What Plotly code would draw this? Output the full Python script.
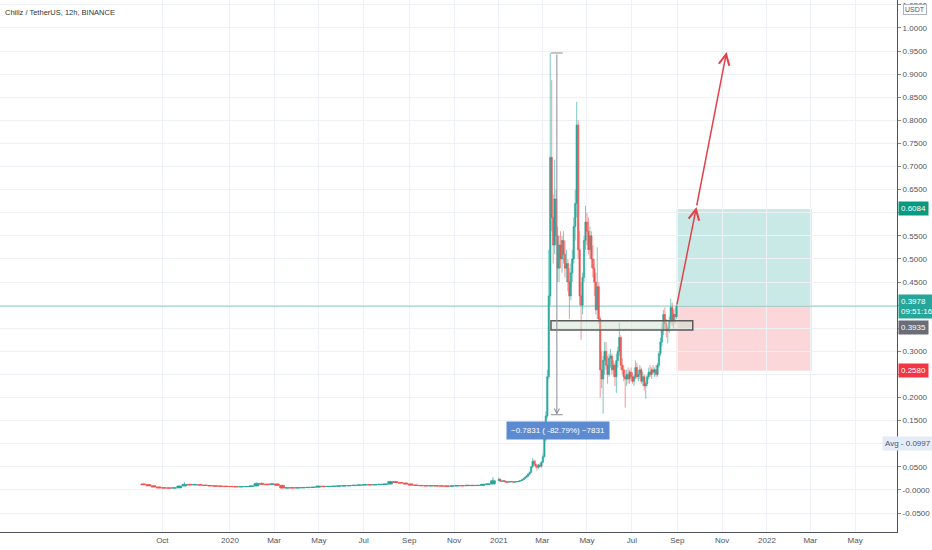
import pandas as pd
import plotly.graph_objects as go

# Weekly candles, Sep 2019 - Dec 2020 (the flat part of the chart)
wk_open = [.0130, .0115, .0090, .0065, .0045, .0042, .0040, .0044, .0085, .0120,
           .0110, .0115, .0105, .0095, .0088, .0082, .0080, .0076, .0072, .0068,
           .0070, .0074, .0085, .0140, .0125, .0115, .0130, .0100, .0040, .0046,
           .0044, .0046, .0050, .0054, .0058, .0080, .0072, .0076, .0080, .0086,
           .0090, .0094, .0100, .0106, .0112, .0110, .0114, .0120, .0126, .0180,
           .0160, .0150, .0130, .0105, .0098, .0092, .0088, .0090, .0086, .0084,
           .0082, .0086, .0092, .0090, .0100, .0094, .0098, .0120, .0128]
wk_high = [.0140, .0120, .0095, .0070, .0055, .0050, .0048, .0090, .0165, .0130,
           .0125, .0122, .0112, .0100, .0094, .0090, .0086, .0082, .0078, .0076,
           .0078, .0090, .0165, .0160, .0135, .0145, .0140, .0105, .0052, .0054,
           .0050, .0056, .0058, .0062, .0090, .0088, .0080, .0084, .0090, .0095,
           .0098, .0104, .0112, .0116, .0120, .0118, .0124, .0130, .0200, .0195,
           .0170, .0158, .0135, .0112, .0106, .0100, .0096, .0098, .0094, .0092,
           .0090, .0096, .0100, .0104, .0108, .0102, .0126, .0136, .0270]
wk_low = [.0110, .0085, .0060, .0040, .0038, .0036, .0035, .0042, .0080, .0100,
          .0098, .0100, .0090, .0082, .0078, .0075, .0072, .0068, .0064, .0062,
          .0064, .0070, .0082, .0115, .0108, .0110, .0095, .0030, .0034, .0040,
          .0038, .0042, .0045, .0050, .0055, .0066, .0066, .0070, .0076, .0080,
          .0082, .0088, .0094, .0100, .0104, .0102, .0108, .0112, .0122, .0150,
          .0140, .0125, .0100, .0092, .0088, .0084, .0082, .0084, .0080, .0078,
          .0076, .0082, .0086, .0086, .0088, .0088, .0094, .0110, .0124]
wk_close = [.0115, .0090, .0065, .0045, .0042, .0040, .0044, .0085, .0120, .0110,
            .0115, .0105, .0095, .0088, .0082, .0080, .0076, .0072, .0068, .0070,
            .0074, .0085, .0140, .0125, .0115, .0130, .0100, .0040, .0046, .0044,
            .0046, .0050, .0054, .0058, .0080, .0072, .0076, .0080, .0086, .0090,
            .0094, .0100, .0106, .0112, .0110, .0114, .0120, .0126, .0180, .0160,
            .0150, .0130, .0105, .0098, .0092, .0088, .0090, .0086, .0084, .0082,
            .0086, .0092, .0090, .0100, .0094, .0098, .0120, .0128, .0200]

# 2-day candles, Jan 2021 - Aug 2021
d2_open = [.0200, .0230, .0190, .0185, .0200, .0180, .0165, .0178, .0172, .0180,
           .0176, .0165, .0175, .0183, .0178, .0195, .0205, .0225, .0250, .0280,
           .0300, .0345, .0380, .0500, .0620, .0560, .0520, .0490, .0540, .0510,
           .0600, .0720, .1100, .1600, .2450, .4200, .7200, .5900, .5300, .6300,
           .5500, .4800, .5300, .5000, .5400, .5100, .4800, .4900, .4500, .4200,
           .4700, .5000, .5700, .6200, .7900, .5200, .4200, .4000, .4600, .5400,
           .5800, .5600, .5200, .5500, .5000, .4800, .4500, .3900, .4400, .3700,
           .2600, .2400, .2800, .3000, .2700, .2500, .2850, .2900, .2600, .2700,
           .2450, .2800, .3000, .3300, .2700, .2600, .2450, .2400, .2500, .2400,
           .2550, .2450, .2350, .2450, .2650, .2450, .2500, .2600, .2350, .2450,
           .2250, .2300, .2450, .2550, .2500, .2600, .2550, .2600, .2500, .2700,
           .2950, .3200, .3450, .3800, .3600, .3450, .3500, .3650, .3950, .3650,
           .3800, .3750]
d2_high = [.0270, .0250, .0205, .0210, .0215, .0190, .0185, .0190, .0185, .0195,
           .0180, .0180, .0190, .0188, .0200, .0210, .0230, .0260, .0290, .0320,
           .0360, .0400, .0520, .0690, .0660, .0640, .0560, .0560, .0580, .0620,
           .0780, .1200, .1700, .2600, .5200, .9459, .8870, .6400, .7150, .6500,
           .5700, .5500, .5600, .5500, .5600, .5400, .5200, .5000, .4800, .4900,
           .5200, .5900, .6500, .8400, .8000, .5600, .4500, .4700, .5500, .6150,
           .6000, .5900, .5700, .5600, .5300, .5000, .4700, .5250, .4500, .3750,
           .3000, .2900, .3200, .3200, .2900, .2950, .3050, .2950, .2800, .2750,
           .2950, .3100, .3620, .3350, .2850, .2700, .2600, .2600, .2650, .2600,
           .2650, .2550, .2500, .2800, .2750, .2600, .2700, .2650, .2550, .2500,
           .2350, .2500, .2650, .2700, .2650, .2700, .2650, .2700, .2750, .3000,
           .3300, .3600, .3900, .3950, .3700, .3550, .3750, .4140, .4050, .3900,
           .3950, .4000]
d2_low = [.0185, .0180, .0170, .0175, .0170, .0150, .0160, .0165, .0168, .0172,
          .0150, .0160, .0170, .0165, .0175, .0188, .0200, .0215, .0240, .0260,
          .0285, .0320, .0370, .0480, .0520, .0480, .0420, .0460, .0490, .0480,
          .0580, .0700, .1050, .1550, .2400, .4000, .5600, .4900, .5100, .5300,
          .4500, .4500, .4800, .4700, .4900, .4600, .4500, .4300, .3700, .4100,
          .4500, .4900, .5400, .5900, .5000, .4000, .3250, .3800, .4500, .5200,
          .5300, .5100, .5000, .4800, .4600, .4200, .3800, .3700, .3600, .2000,
          .2200, .1650, .2500, .2600, .2300, .2450, .2650, .2500, .2450, .2250,
          .2100, .2650, .2900, .2600, .2500, .2350, .1780, .2250, .2300, .2300,
          .2350, .2300, .2250, .2400, .2400, .2350, .2400, .2300, .2250, .2150,
          .1970, .2250, .2400, .2450, .2400, .2500, .2450, .2450, .2450, .2650,
          .2900, .3100, .3350, .3500, .3300, .3170, .3400, .3600, .3550, .3500,
          .3600, .3700]
d2_close = [.0230, .0190, .0185, .0200, .0180, .0165, .0178, .0172, .0180, .0176,
            .0165, .0175, .0183, .0178, .0195, .0205, .0225, .0250, .0280, .0300,
            .0345, .0380, .0500, .0620, .0560, .0520, .0490, .0540, .0510, .0600,
            .0720, .1100, .1600, .2450, .4200, .7200, .5900, .5300, .6300, .5500,
            .4800, .5300, .5000, .5400, .5100, .4800, .4900, .4500, .4200, .4700,
            .5000, .5700, .6200, .7900, .5200, .4200, .4000, .4600, .5400, .5800,
            .5600, .5200, .5500, .5000, .4800, .4500, .3900, .4400, .3700, .2600,
            .2400, .2800, .3000, .2700, .2500, .2850, .2900, .2600, .2700, .2450,
            .2800, .3000, .3300, .2700, .2600, .2450, .2400, .2500, .2400, .2550,
            .2450, .2350, .2450, .2650, .2450, .2500, .2600, .2350, .2450, .2250,
            .2300, .2450, .2550, .2500, .2600, .2550, .2600, .2500, .2700, .2950,
            .3200, .3450, .3800, .3600, .3450, .3500, .3650, .3950, .3650, .3800,
            .3750, .3978]

wk_dates = pd.date_range("2019-09-05", periods=len(wk_close), freq="7D")
d2_dates = pd.date_range("2021-01-01", periods=len(d2_close), freq="2D")

# axis ticks
x_tickvals = ["2019-10-01", "2020-01-01", "2020-03-01", "2020-05-01", "2020-07-01",
              "2020-09-01", "2020-11-01", "2021-01-01", "2021-03-01", "2021-05-01",
              "2021-07-01", "2021-09-01", "2021-11-01", "2022-01-01", "2022-03-01",
              "2022-05-01"]
x_ticktext = ["Oct", "2020", "Mar", "May", "Jul", "Sep", "Nov", "2021", "Mar", "May",
              "Jul", "Sep", "Nov", "2022", "Mar", "May"]
y_tickvals = [-0.05, 0.0, 0.05, 0.1, 0.15, 0.2, 0.25, 0.3, 0.35, 0.4, 0.45, 0.5,
              0.55, 0.6, 0.65, 0.7, 0.75, 0.8, 0.85, 0.9, 0.95, 1.0, 1.05]
# labels hidden behind the price tags on the axis
y_hidden = [0.1, 0.25, 0.35, 0.4, 0.6]
y_ticktext = ["-0.0500", "-0.0000"] + ["" if v in y_hidden else "%.4f" % v
                                       for v in y_tickvals[2:]]

# drawings on the chart
last_price = 0.3978
target_price = 0.6084
stop_price = 0.2580
avg_price = 0.0997
measure_top = 0.9459
measure_bottom = 0.1628
zone_top = 0.3663
zone_bottom = 0.3463
arrow_points = [("2021-08-31", 0.3978), ("2021-09-27", 0.6125), ("2021-11-07", 0.948)]

UP = "#26a69a"
DOWN = "#ef5350"
FONT = "Liberation Sans, Arial, sans-serif"

fig = go.Figure()
# weekly candles sit on a hidden twin axis so their width follows their own spacing
for axis, dates, o, h, l, c, lw in [("x2", wk_dates, wk_open, wk_high, wk_low, wk_close, 0.8),
                                    ("x", d2_dates, d2_open, d2_high, d2_low, d2_close, 0.6)]:
    fig.add_trace(go.Candlestick(
        x=dates, open=o, high=h, low=l, close=c, xaxis=axis,
        increasing=dict(line=dict(color=UP, width=lw), fillcolor=UP),
        decreasing=dict(line=dict(color=DOWN, width=lw), fillcolor=DOWN),
        whiskerwidth=0, showlegend=False, hoverinfo="skip"))

# long / short position boxes
fig.add_shape(type="rect", x0="2021-08-31", x1="2022-03-03", y0=last_price, y1=target_price,
              fillcolor="rgba(38,166,154,0.25)", line=dict(width=0), layer="below")
fig.add_shape(type="rect", x0="2021-08-31", x1="2022-03-03", y0=stop_price, y1=last_price,
              fillcolor="rgba(242,54,69,0.2)", line=dict(width=0), layer="below")
# current price line
fig.add_shape(type="line", xref="paper", x0=0, x1=1, y0=last_price, y1=last_price,
              line=dict(color="rgba(38,166,154,0.5)", width=1))
# support zone
fig.add_shape(type="rect", x0="2021-03-13", x1="2021-09-22", y0=zone_bottom, y1=zone_top,
              fillcolor="rgba(205,225,205,0.45)", line=dict(color="#5a5a5a", width=1.5))
# price range tool
for yv in [measure_top, measure_bottom]:
    fig.add_shape(type="line", x0="2021-03-13", x1="2021-03-29", y0=yv, y1=yv,
                  line=dict(color="#8a8d96", width=1))
fig.add_annotation(x="2021-03-21", y=measure_bottom, ax="2021-03-21", ay=measure_top,
                   axref="x", ayref="y", text="", showarrow=True, arrowhead=5,
                   arrowsize=1, arrowwidth=1, arrowcolor="#8a8d96")
fig.add_annotation(x="2021-03-23", y=0.1297, text="\u22120.7831 ( -82.79%) \u22127831",
                   showarrow=False, bgcolor="#5d8bd2", borderpad=4,
                   font=dict(family=FONT, size=8, color="white"))

# red arrows
for (x0, y0), (x1, y1) in zip(arrow_points[:-1], arrow_points[1:]):
    fig.add_annotation(x=x1, y=y1, ax=x0, ay=y0, axref="x", ayref="y", text="",
                       showarrow=True, arrowhead=5, arrowsize=1.4, arrowwidth=1.5,
                       arrowcolor="#e2434b")

# title
fig.add_annotation(xref="paper", yref="paper", x=0.003, y=1, xanchor="left", yanchor="top",
                   yshift=-6, text="Chiliz / TetherUS, 12h, BINANCE", showarrow=False,
                   font=dict(family=FONT, size=7.5, color="#333"))
# axis labels
fig.add_annotation(xref="paper", yref="paper", x=1, y=1, xanchor="left", yanchor="top",
                   xshift=6, yshift=-4, text="USDT", showarrow=False, bgcolor="white",
                   bordercolor="#b0b3bb", borderwidth=1, borderpad=1,
                   font=dict(family=FONT, size=7, color="#555"))
labels = [(target_price, "0.6084", "#089981"),
          (last_price, "0.3978<br>09:51:16", "#26a69a"),
          (0.352, "0.3935", "#6a6d78"),
          (stop_price, "0.2580", "#f23645")]
for yv, txt, col in labels:
    fig.add_annotation(xref="paper", x=1, y=yv, xanchor="left", xshift=1, text=txt,
                       showarrow=False, bgcolor=col, borderpad=2, align="left",
                       font=dict(family=FONT, size=8, color="white"))
fig.add_annotation(xref="paper", x=0.983, y=avg_price, xanchor="left", text="Avg - 0.0997",
                   showarrow=False, bgcolor="#e4ecf8", borderpad=2,
                   font=dict(family=FONT, size=8, color="#4a5470"))

fig.update_layout(
    width=932, height=550, autosize=False,
    margin=dict(l=0, r=35, t=0, b=18),
    paper_bgcolor="white", plot_bgcolor="white",
    font=dict(family=FONT, size=8, color="#50535e"),
    boxgap=0.05, boxgroupgap=0.05,
    xaxis=dict(type="date", range=["2019-02-22", "2022-06-27"], rangeslider=dict(visible=False),
               tickvals=x_tickvals, ticktext=x_ticktext, showgrid=True, gridcolor="#eef1f6",
               showline=True, linecolor="#50535e", linewidth=1, ticks="", zeroline=False,
               tickfont=dict(size=8)),
    xaxis2=dict(type="date", overlaying="x", matches="x", visible=False,
                rangeslider=dict(visible=False)),
    yaxis=dict(side="right", range=[-0.0911, 1.0606], tickvals=y_tickvals, ticktext=y_ticktext,
               showgrid=True, gridcolor="#eef1f6", showline=True, linecolor="#50535e",
               linewidth=1, ticks="outside", ticklen=3, tickcolor="#888", zeroline=False,
               tickfont=dict(size=8)),
)

fig.write_html("out.html", config={"displayModeBar": False},
               post_script="document.body.style.margin = '0px';")
